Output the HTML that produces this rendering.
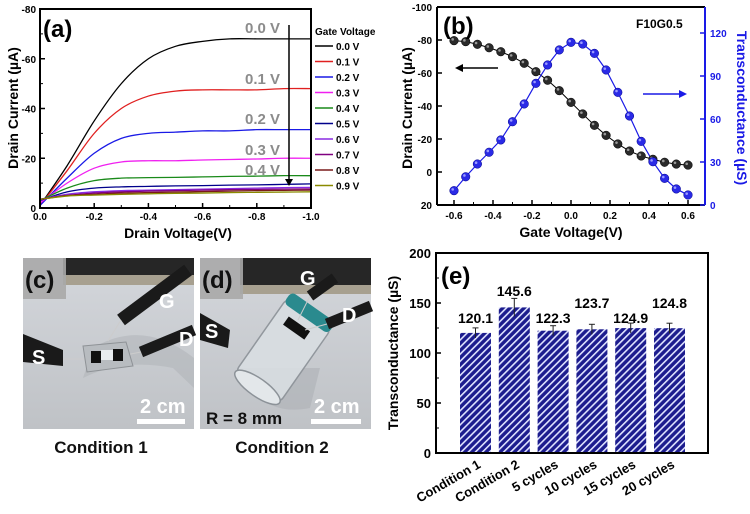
<!DOCTYPE html>
<html><head><meta charset="utf-8"><style>
html,body{margin:0;padding:0;background:#fff}
svg{display:block;font-family:"Liberation Sans",Arial,sans-serif}
.t{font-weight:bold}
</style></head><body>
<svg id="fig" width="750" height="514" viewBox="0 0 750 514" xmlns="http://www.w3.org/2000/svg">
<defs>
<pattern id="hatch" patternUnits="userSpaceOnUse" width="5" height="5" patternTransform="rotate(45)">
<rect width="5" height="5" fill="#1c1c8e"/><rect x="0" y="0" width="1.6" height="5" fill="#dfe3ff"/>
</pattern>
<linearGradient id="floor" x1="0" y1="0" x2="0" y2="1"><stop offset="0" stop-color="#d4d7dc"/><stop offset="1" stop-color="#bfc2c6"/></linearGradient>
</defs>
<g id="pa"></g>
<g id="pb"></g>
<g id="pe"></g>

<!-- photo c -->
<g transform="translate(23,258)">
<rect width="171" height="171" fill="url(#floor)"/>
<rect x="40" y="0" width="131" height="20" fill="#262626"/>
<rect x="40" y="17" width="131" height="10" fill="#a7a090"/>
<rect x="0" y="0" width="43" height="41" fill="#a9a9a9" opacity="0.9"/>
<path d="M60 120 Q100 100 150 110 L171 130 L171 100 Q120 60 70 90Z" fill="#aeb1b5" opacity="0.5"/>
<line x1="165" y1="12" x2="98" y2="62" stroke="#1a1a1a" stroke-width="13"/>
<line x1="98" y1="62" x2="85" y2="83" stroke="#ccc" stroke-width="1"/>
<line x1="171" y1="72" x2="118" y2="94" stroke="#1a1a1a" stroke-width="11"/>
<line x1="118" y1="94" x2="98" y2="98" stroke="#ccc" stroke-width="1"/>
<path d="M0 76 L40 92 L40 108 L0 104Z" fill="#1a1a1a"/>
<line x1="40" y1="101" x2="65" y2="101" stroke="#ccc" stroke-width="1"/>
<path d="M60 88 L103 84 L110 108 L64 114Z" fill="#b8bcc0" stroke="#8e9296" stroke-width="1"/>
<rect x="68" y="93" width="10" height="12" fill="#111"/><rect x="90" y="91" width="10" height="12" fill="#111"/>
<rect x="78" y="92" width="12" height="10" fill="#e8ecef"/>
<text x="2" y="30" class="t" font-size="24" fill="#111">(c)</text>
<text x="136" y="50" class="t" font-size="20" fill="#fff">G</text>
<text x="156" y="88" class="t" font-size="20" fill="#fff">D</text>
<text x="9" y="106" class="t" font-size="20" fill="#fff">S</text>
<text x="117" y="155" class="t" font-size="20" fill="#fff">2 cm</text>
<rect x="114" y="161" width="48" height="5" fill="#fff"/>
</g>
<!-- photo d -->
<g transform="translate(200,258)">
<rect width="171" height="171" fill="url(#floor)"/>
<rect x="40" y="0" width="131" height="30" fill="#262626"/>
<rect x="40" y="27" width="131" height="9" fill="#a7a090"/>
<rect x="0" y="0" width="43" height="41" fill="#a9a9a9" opacity="0.9"/>
<path d="M40 110 Q60 160 110 150 L120 110Z" fill="#aeb1b5" opacity="0.6"/>
<g transform="rotate(35 85 90)">
<rect x="58" y="48" width="54" height="90" rx="6" fill="#d9dee2" stroke="#8c9298" stroke-width="1.5" opacity="0.9"/>
<ellipse cx="85" cy="138" rx="27" ry="9" fill="#e3e7ea" stroke="#8c9298" stroke-width="1.5"/>
<rect x="58" y="40" width="54" height="14" rx="5" fill="#2a8a8e"/>
<rect x="70" y="62" width="26" height="10" fill="#111"/>
</g>
<line x1="135" y1="20" x2="110" y2="38" stroke="#1a1a1a" stroke-width="11"/>
<line x1="110" y1="38" x2="98" y2="62" stroke="#ccc" stroke-width="1"/>
<line x1="171" y1="48" x2="127" y2="66" stroke="#1a1a1a" stroke-width="11"/>
<line x1="127" y1="66" x2="105" y2="72" stroke="#ccc" stroke-width="1"/>
<path d="M0 55 L30 72 L28 90 L0 82Z" fill="#1a1a1a"/>
<text x="2" y="30" class="t" font-size="24" fill="#111">(d)</text>
<text x="100" y="27" class="t" font-size="20" fill="#fff">G</text>
<text x="142" y="64" class="t" font-size="20" fill="#fff">D</text>
<text x="5" y="80" class="t" font-size="20" fill="#fff">S</text>
<text x="6" y="166" class="t" font-size="17" fill="#111">R = 8 mm</text>
<text x="114" y="155" class="t" font-size="20" fill="#fff">2 cm</text>
<rect x="111" y="161" width="50" height="5" fill="#fff"/>
</g>
<text x="101" y="453" text-anchor="middle" class="t" font-size="17" fill="#111">Condition 1</text>
<text x="282" y="453" text-anchor="middle" class="t" font-size="17" fill="#111">Condition 2</text>
</svg>
<script>
// ---- Panel (a) data ----
const aVoltages = [0,-0.1,-0.2,-0.3,-0.4,-0.5,-0.6,-0.7,-0.8,-0.9,-1.0];
const aGateLabels = ['0.0 V','0.1 V','0.2 V','0.3 V','0.4 V','0.5 V','0.6 V','0.7 V','0.8 V','0.9 V'];
const aG00 = [-1,-17,-35,-50,-60,-65,-67,-68,-68,-68,-68];
const aG01 = [-1,-15,-30,-40,-45,-47,-47.5,-47.5,-47.5,-48,-48];
const aG02 = [-1,-12,-22,-28,-30,-30.5,-31,-31,-31.5,-31.5,-31.5];
const aG03 = [-2,-10,-16,-18.5,-19,-19,-19.3,-19.5,-19.7,-20,-20];
const aG04 = [-3,-8,-11,-12,-12.2,-12.3,-12.5,-12.7,-12.8,-13,-13];
const aG05 = [-3,-6.5,-8,-8.5,-8.7,-8.9,-9,-9.2,-9.3,-9.5,-9.7];
const aG06 = [-3.5,-5.5,-6.5,-7,-7.2,-7.4,-7.6,-7.8,-8,-8.2,-8.3];
const aG07 = [-3.5,-5,-6,-6.5,-6.8,-7,-7.2,-7.4,-7.5,-7.6,-7.7];
const aG08 = [-3.5,-5,-5.5,-6,-6.2,-6.4,-6.6,-6.8,-7,-7.1,-7.2];
const aG09 = [-3.5,-4.8,-5.2,-5.5,-5.7,-5.9,-6,-6.2,-6.3,-6.4,-6.5];
const aXTicks = [0,-0.2,-0.4,-0.6,-0.8,-1.0];
const aYTicks = [0,-20,-40,-60,-80];
// ---- Panel (b) data ----
const bGate = [-0.6,-0.54,-0.48,-0.42,-0.36,-0.3,-0.24,-0.18,-0.12,-0.06,0,0.06,0.12,0.18,0.24,0.3,0.36,0.42,0.48,0.54,0.6];
const bCurrent = [-79.6,-79,-77.4,-75.3,-72.9,-69.9,-65.9,-60.8,-55.6,-49.3,-42.2,-35.2,-28.3,-22.2,-17,-12.7,-9.7,-7.7,-5.9,-4.8,-4.2];
const bGm = [10,19.7,28.6,36.8,45.4,58.1,70.5,84.9,97.7,108.2,113.5,112.3,105.8,94.2,78.6,62.1,44.4,30.2,18.6,11.2,7];
const bXTicks = [-0.6,-0.4,-0.2,0.0,0.2,0.4,0.6];
const bYTicks = [-100,-80,-60,-40,-20,0,20];
const bRTicks = [0,30,60,90,120];
// ---- Panel (e) data ----
const eCategories = ['Condition 1','Condition 2','5 cycles','10 cycles','15 cycles','20 cycles'];
const eValues = [120.1,145.6,122.3,123.7,124.9,124.8];
const eErrors = [5,9,5,5,5,5];
const eLabels = ['120.1','145.6','122.3','123.7','124.9','124.8'];
const eYTicks = [0,50,100,150,200];

const NS='http://www.w3.org/2000/svg';
function mk(parent,tag,attrs,text){const e=document.createElementNS(NS,tag);for(const k in attrs)e.setAttribute(k,attrs[k]);if(text!==undefined)e.textContent=text;parent.appendChild(e);return e;}
function smooth(pts){let d='M'+pts[0][0]+' '+pts[0][1];for(let i=0;i<pts.length-1;i++){const p0=pts[i-1]||pts[i],p1=pts[i],p2=pts[i+1],p3=pts[i+2]||p2;const c1=[p1[0]+(p2[0]-p0[0])/6,p1[1]+(p2[1]-p0[1])/6],c2=[p2[0]-(p3[0]-p1[0])/6,p2[1]-(p3[1]-p1[1])/6];d+=' C'+c1[0]+' '+c1[1]+' '+c2[0]+' '+c2[1]+' '+p2[0]+' '+p2[1];}return d;}

// ===== Panel A =====
(function(){
const g=document.getElementById('pa');
const L=40,R=311,T=9,B=208;
const ax=v=>L+(v/-1.0)*(R-L), ay=v=>B-(v/-80)*(B-T);
const series=[aG00,aG01,aG02,aG03,aG04,aG05,aG06,aG07,aG08,aG09];
const colors=['#000','#e02020','#1a1ae6','#f020f0','#1a8a1a','#00008b','#8a2be2','#800080','#7a1a1a','#8a8a00'];
series.forEach((s,i)=>{
 const p=mk(g,'path',{d:smooth(s.map((v,j)=>[ax(aVoltages[j]),ay(v)])),fill:'none',stroke:colors[i],'stroke-width':1.3});
 
 
});
const box=mk(g,'rect',{x:L,y:T,width:R-L,height:B-T,fill:'none',stroke:'#000','stroke-width':2});

aXTicks.forEach(v=>{const x=ax(v);mk(g,'line',{x1:x,y1:B,x2:x,y2:B-5,stroke:'#000','stroke-width':1.5});
 const t=mk(g,'text',{x:x,y:B+12,'text-anchor':'middle','font-size':10,class:'t'},v.toFixed(1));});
for(let v=-0.1;v>-1;v-=0.2){const x=ax(v);mk(g,'line',{x1:x,y1:B,x2:x,y2:B-3,stroke:'#000','stroke-width':1});}
aYTicks.forEach(v=>{const y=ay(v);mk(g,'line',{x1:L,y1:y,x2:L+5,y2:y,stroke:'#000','stroke-width':1.5});
 const t=mk(g,'text',{x:L-4,y:y+4,'text-anchor':'end','font-size':10,class:'t'},String(v));});
for(let v=-10;v>-80;v-=20){const y=ay(v);mk(g,'line',{x1:L,y1:y,x2:L+3,y2:y,stroke:'#000'});}
let t=mk(g,'text',{x:178,y:238,'text-anchor':'middle','font-size':14,class:'t'},'Drain Voltage(V)');
t=mk(g,'text',{x:0,y:0,'text-anchor':'middle','font-size':14,class:'t',transform:'translate(18,108) rotate(-90)'},'Drain Current (µA)');
t=mk(g,'text',{x:43,y:37,'font-size':24,class:'t'},'(a)');
const gl=[[0,33],[1,84],[2,124],[3,155],[4,175]];
gl.forEach(([i,y])=>{const e=mk(g,'text',{x:245,y:y,'font-size':15,class:'t',fill:'#8c8c8c'},aGateLabels[i]);});
const ar=mk(g,'line',{x1:289,y1:25,x2:289,y2:180,stroke:'#000','stroke-width':1.5});
mk(g,'path',{d:'M285 179 L293 179 L289 186Z',fill:'#000'});
t=mk(g,'text',{x:315,y:35,'font-size':10,class:'t'},'Gate Voltage');
aGateLabels.forEach((lab,i)=>{const y=46+i*15.5;const lg=mk(g,'g',{});
 
 mk(lg,'line',{x1:315,y1:y,x2:333,y2:y,stroke:colors[i],'stroke-width':1.5});
 mk(lg,'text',{x:336,y:y+4,'font-size':10,class:'t'},lab);});
})();

// ===== Panel B =====
(function(){
const g=document.getElementById('pb');
const L=437,R=705,T=7,B=205;
const bx=v=>454+(v+0.6)/1.2*(688-454), by=v=>T+(v+100)/120*(B-T), ry=v=>B-v/120*(B-33);
let p=mk(g,'path',{d:'M'+bCurrent.map((v,i)=>bx(bGate[i])+' '+by(v)).join(' L'),fill:'none',stroke:'#000','stroke-width':1});

p=mk(g,'path',{d:'M'+bGm.map((v,i)=>bx(bGate[i])+' '+ry(v)).join(' L'),fill:'none',stroke:'#1a1ae6','stroke-width':1.2});

bCurrent.forEach((v,i)=>{const c=mk(g,'circle',{cx:bx(bGate[i]),cy:by(v),r:4.3,fill:'#2a2a2a',stroke:'#000','stroke-width':0.5});
 
 mk(g,'circle',{cx:bx(bGate[i])-1.3,cy:by(v)-1.3,r:1.3,fill:'#999'});});
bGm.forEach((v,i)=>{const c=mk(g,'circle',{cx:bx(bGate[i]),cy:ry(v),r:4.3,fill:'#2a2ae6',stroke:'#00008b','stroke-width':0.5});
 
 mk(g,'circle',{cx:bx(bGate[i])-1.3,cy:ry(v)-1.3,r:1.3,fill:'#9a9aff'});});
mk(g,'line',{x1:L,y1:T,x2:R,y2:T,stroke:'#000','stroke-width':2});
mk(g,'line',{x1:L,y1:B,x2:R,y2:B,stroke:'#000','stroke-width':2});
mk(g,'line',{x1:L,y1:T,x2:L,y2:B,stroke:'#000','stroke-width':2});
const ra=mk(g,'line',{x1:R,y1:T,x2:R,y2:B,stroke:'#1a1ae6','stroke-width':2});
bXTicks.forEach(v=>{const x=bx(v);mk(g,'line',{x1:x,y1:B,x2:x,y2:B-5,stroke:'#000','stroke-width':1.5});
 const t=mk(g,'text',{x:x,y:B+14,'text-anchor':'middle','font-size':10,class:'t'},v.toFixed(1));});
for(let v=-0.5;v<0.6;v+=0.2){const x=bx(v);mk(g,'line',{x1:x,y1:B,x2:x,y2:B-3,stroke:'#000'});}
bYTicks.forEach(v=>{const y=by(v);mk(g,'line',{x1:L,y1:y,x2:L+5,y2:y,stroke:'#000','stroke-width':1.5});
 const t=mk(g,'text',{x:L-5,y:y+4,'text-anchor':'end','font-size':10,class:'t'},String(v));});
bRTicks.forEach(v=>{const y=ry(v);mk(g,'line',{x1:R,y1:y,x2:R-5,y2:y,stroke:'#1a1ae6','stroke-width':1.5});
 const t=mk(g,'text',{x:R+5,y:y+4,'font-size':10,class:'t',fill:'#1a1ae6'},String(v));});
let t=mk(g,'text',{x:571,y:237,'text-anchor':'middle','font-size':14,class:'t'},'Gate Voltage(V)');
t=mk(g,'text',{x:0,y:0,'text-anchor':'middle','font-size':14,class:'t',transform:'translate(412,108) rotate(-90)'},'Drain Current (µA)');
t=mk(g,'text',{x:0,y:0,'text-anchor':'middle','font-size':14,class:'t',fill:'#1a1ae6',transform:'translate(737,108) rotate(90)'},'Transconductance (µS)');
t=mk(g,'text',{x:443,y:34,'font-size':24,class:'t'},'(b)');
t=mk(g,'text',{x:636,y:28,'font-size':12,class:'t'},'F10G0.5');
mk(g,'line',{x1:498,y1:68,x2:462,y2:68,stroke:'#000','stroke-width':1.5});mk(g,'path',{d:'M455 68 L463 64 L463 72Z',fill:'#000'});
mk(g,'line',{x1:643,y1:94,x2:680,y2:94,stroke:'#1a1ae6','stroke-width':1.5});mk(g,'path',{d:'M687 94 L679 90 L679 98Z',fill:'#1a1ae6'});
})();

// ===== Panel E =====
(function(){
const g=document.getElementById('pe');
const L=436,R=708,T=253,B=453;
const ey=v=>B-v/200*(B-T);
const labelY=[323,296,323,308,323,308];
eValues.forEach((v,i)=>{const x=460+i*38.8;const w=31;
 const r=mk(g,'rect',{x:x,y:ey(v),width:w,height:B-ey(v),fill:'url(#hatch)'});
 
 const cx=x+w/2;mk(g,'line',{x1:cx,y1:ey(v+eErrors[i]),x2:cx,y2:ey(v-eErrors[i]),stroke:'#222','stroke-width':1});
 mk(g,'line',{x1:cx-3,y1:ey(v+eErrors[i]),x2:cx+3,y2:ey(v+eErrors[i]),stroke:'#222','stroke-width':1});
 const t=mk(g,'text',{x:cx,y:labelY[i],'text-anchor':'middle','font-size':14,class:'t'},eLabels[i]);
 
 const c=mk(g,'text',{x:0,y:0,'text-anchor':'end','font-size':13,class:'t',transform:'translate('+(cx+6)+','+(B+14)+') rotate(-30)'},eCategories[i]);
 });
const box=mk(g,'rect',{x:L,y:T,width:R-L,height:B-T,fill:'none',stroke:'#000','stroke-width':2});

eYTicks.forEach(v=>{const y=ey(v);mk(g,'line',{x1:L,y1:y,x2:L+5,y2:y,stroke:'#000','stroke-width':1.5});
 const t=mk(g,'text',{x:L-5,y:y+5,'text-anchor':'end','font-size':13,class:'t'},String(v));});
for(let v=25;v<200;v+=50){const y=ey(v);mk(g,'line',{x1:L,y1:y,x2:L+3,y2:y,stroke:'#000'});}
let t=mk(g,'text',{x:0,y:0,'text-anchor':'middle','font-size':14,class:'t',transform:'translate(398,353) rotate(-90)'},'Transconductance (µS)');
t=mk(g,'text',{x:441,y:284,'font-size':24,class:'t'},'(e)');
})();
</script>
</body></html>
